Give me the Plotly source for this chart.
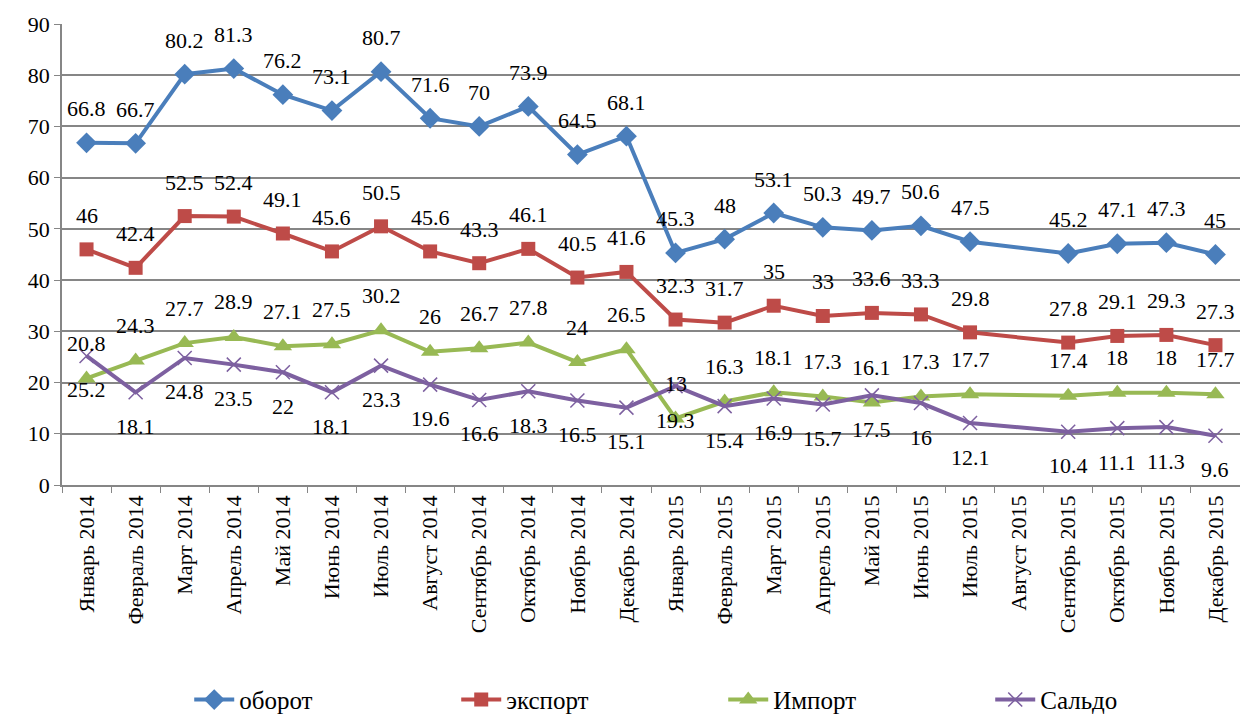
import plotly.graph_objects as go

months = ["Январь 2014", "Февраль 2014", "Март 2014", "Апрель 2014", "Май 2014", "Июнь 2014",
          "Июль 2014", "Август 2014", "Сентябрь 2014", "Октябрь 2014", "Ноябрь 2014", "Декабрь 2014",
          "Январь 2015", "Февраль 2015", "Март 2015", "Апрель 2015", "Май 2015", "Июнь 2015",
          "Июль 2015", "Август 2015", "Сентябрь 2015", "Октябрь 2015", "Ноябрь 2015", "Декабрь 2015"]

oborot = [66.8, 66.7, 80.2, 81.3, 76.2, 73.1, 80.7, 71.6, 70, 73.9, 64.5, 68.1,
          45.3, 48, 53.1, 50.3, 49.7, 50.6, 47.5, None, 45.2, 47.1, 47.3, 45]
eksport = [46, 42.4, 52.5, 52.4, 49.1, 45.6, 50.5, 45.6, 43.3, 46.1, 40.5, 41.6,
           32.3, 31.7, 35, 33, 33.6, 33.3, 29.8, None, 27.8, 29.1, 29.3, 27.3]
import_ = [20.8, 24.3, 27.7, 28.9, 27.1, 27.5, 30.2, 26, 26.7, 27.8, 24, 26.5,
           13, 16.3, 18.1, 17.3, 16.1, 17.3, 17.7, None, 17.4, 18, 18, 17.7]
saldo = [25.2, 18.1, 24.8, 23.5, 22, 18.1, 23.3, 19.6, 16.6, 18.3, 16.5, 15.1,
         19.3, 15.4, 16.9, 15.7, 17.5, 16, 12.1, None, 10.4, 11.1, 11.3, 9.6]

FONT = "Liberation Serif"

series = [
    ("оборот", oborot, "#4A7EBB", dict(symbol="diamond", size=16), 34),
    ("экспорт", eksport, "#BE4B48", dict(symbol="square", size=14), 34),
    ("Импорт", import_, "#98B954", dict(symbol="triangle-up", size=16), 35),
    ("Сальдо", saldo, "#7D60A0", dict(symbol="x-thin-open", size=14, line=dict(width=1.5, color="#7D60A0")), -34),
]

fig = go.Figure()
annotations = []
for name, vals, color, marker, shift in series:
    fig.add_trace(go.Scatter(
        x=months, y=vals, name=name, mode="lines+markers",
        line=dict(color=color, width=4),
        marker=dict(color=color, **marker),
        connectgaps=True, cliponaxis=False,
    ))
    for m, v in zip(months, vals):
        if v is None:
            continue
        annotations.append(dict(
            x=m, y=v, xref="x", yref="y", text="%g" % v, showarrow=False,
            xanchor="center", yanchor="middle",
            yshift=shift, font=dict(family=FONT, size=22, color="black"),
        ))

fig.update_layout(
    width=1240, height=710,
    margin=dict(l=54, r=8, t=16, b=233, autoexpand=False),
    paper_bgcolor="white", plot_bgcolor="white",
    font=dict(family=FONT, size=22, color="black"),
    showlegend=True,
    annotations=annotations,
    legend=dict(orientation="h", x=0.108, xanchor="left", y=-0.466, yanchor="middle",
                font=dict(family=FONT, size=25), itemwidth=40, tracegroupgap=0,
                entrywidth=212),
)
fig.update_xaxes(
    type="category", categoryorder="array", categoryarray=months,
    tickangle=-90, tickfont=dict(family=FONT, size=22),
    showline=True, linecolor="#868686", linewidth=1.5,
    ticks="outside", tickson="boundaries", ticklen=6, tickcolor="#868686",
    showgrid=False, range=[-0.5, 23.5], automargin=False,
)
fig.update_yaxes(
    range=[0, 90], dtick=10, tickfont=dict(family=FONT, size=22),
    showgrid=True, gridcolor="#868686", gridwidth=1.5,
    showline=True, linecolor="#868686", linewidth=1.5,
    ticks="outside", ticklen=6, tickcolor="#868686", zeroline=False, automargin=False,
)

fig.write_html("out.html")
